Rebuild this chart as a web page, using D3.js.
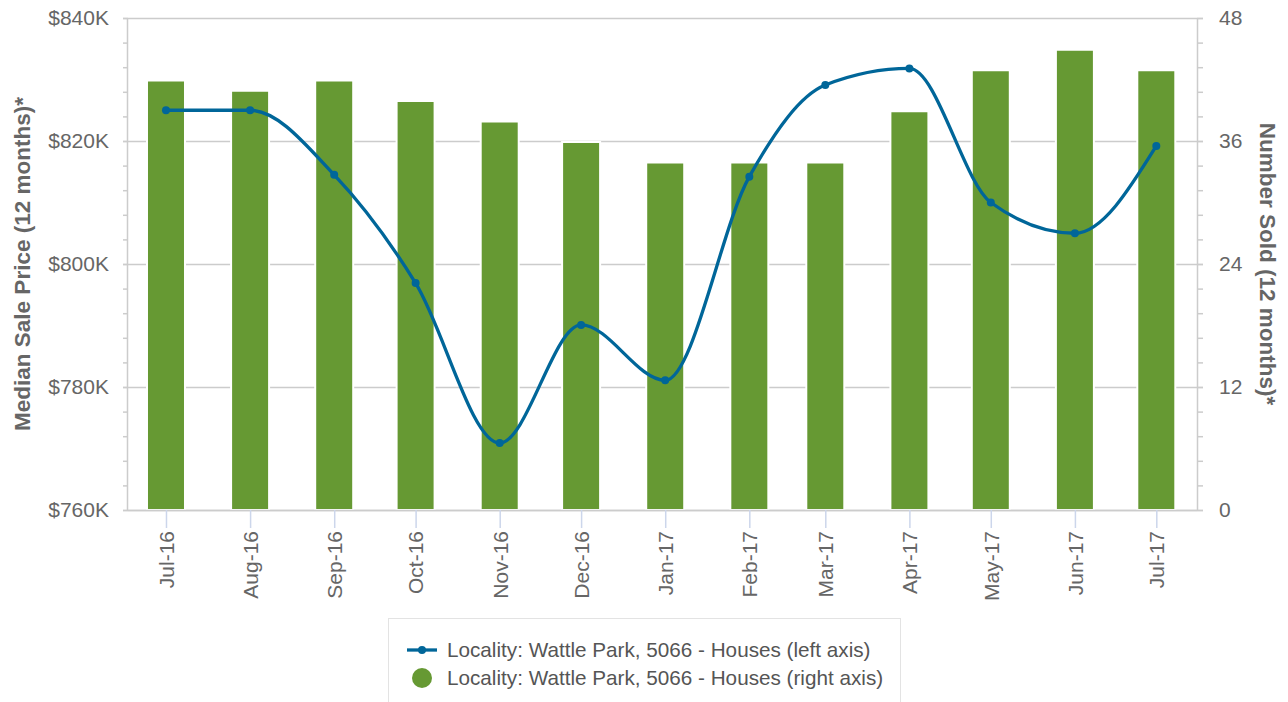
<!DOCTYPE html>
<html>
<head>
<meta charset="utf-8">
<script src="https://cdn.jsdelivr.net/npm/d3@7"></script>
<style>
  body { margin: 0; background: #fff; }
  text { font-family: "Liberation Sans", Arial, sans-serif; }
</style>
</head>
<body>
<script>
let width = 1288, height = 702;
let margin = {top: 18, right: 91, bottom: 192, left: 128};

// data
let months = ["2016-07", "2016-08", "2016-09", "2016-10", "2016-11", "2016-12",
              "2017-01", "2017-02", "2017-03", "2017-04", "2017-05", "2017-06", "2017-07"];
let medianPrice = [825.0, 825.0, 814.5, 796.9, 770.9, 790.1, 781.1, 814.2, 829.1, 831.8, 810.0, 805.0, 819.2];
let numberSold = [42, 41, 42, 40, 38, 36, 34, 34, 34, 39, 43, 45, 43];
let leftTicks = [760, 780, 800, 820, 840];
let rightTicks = [0, 12, 24, 36, 48];
let seriesNames = ["Locality: Wattle Park, 5066 - Houses (left axis)",
                   "Locality: Wattle Park, 5066 - Houses (right axis)"];

let lineColor = "#006699", barColor = "#669933", textColor = "#666666";

let parseMonth = d3.timeParse("%Y-%m");
let dates = months.map(parseMonth);

let svg = d3.select("body").append("svg")
    .attr("width", width)
    .attr("height", height);

let x0 = margin.left, x1 = width - margin.right;
let yTop = margin.top, yBot = height - margin.bottom;

let x = d3.scaleTime()
    .domain([new Date(2016, 5, 17), new Date(2017, 6, 16)])
    .range([x0, x1]);
let yL = d3.scaleLinear().domain([760, 840]).range([yBot, yTop]);
let yR = d3.scaleLinear().domain([0, 48]).range([yBot, yTop]);

// gridlines
let grid = svg.append("g").attr("transform", `translate(${x0},0)`)
    .call(d3.axisLeft(yL).tickValues(leftTicks).tickSize(-(x1 - x0)).tickFormat(""));
grid.select(".domain").remove();
grid.selectAll("line").attr("stroke", "#cccccc").attr("stroke-width", 1.5);

// bars (right axis)
let barW = 38;
svg.append("g").selectAll("rect")
    .data(numberSold)
    .enter().append("rect")
    .attr("x", (d, i) => x(dates[i]) - barW / 2)
    .attr("y", d => yR(d) + 1)
    .attr("width", barW)
    .attr("height", d => yBot - yR(d) - 1)
    .attr("fill", barColor)
    .attr("stroke", "#ffffff")
    .attr("stroke-width", 2);

// x axis
let xAxis = svg.append("g").attr("transform", `translate(0,${yBot})`)
    .call(d3.axisBottom(x).tickValues(dates).tickSize(18).tickFormat(d3.timeFormat("%b-%y")));
xAxis.select(".domain").attr("stroke", "#cccccc").attr("stroke-width", 1.5)
    .attr("d", `M${x0},0.5H${x1}`);
xAxis.selectAll(".tick line").attr("stroke", "#ccd6eb").attr("stroke-width", 1.5);
xAxis.selectAll(".tick text")
    .attr("transform", "rotate(-90)")
    .attr("x", -21)
    .attr("y", 0)
    .attr("dy", "0.35em")
    .style("text-anchor", "end")
    .style("font-size", "21px")
    .attr("fill", textColor);

// left axis, with minor ticks
let minorL = svg.append("g").attr("transform", `translate(${x0},0)`)
    .call(d3.axisLeft(yL).tickValues(d3.range(0, 21).map(i => 760 + i * 4)).tickSize(5).tickFormat(""));
minorL.selectAll("line").attr("stroke", "#cccccc").attr("stroke-width", 1.5);
minorL.select(".domain").remove();
let leftAxis = svg.append("g").attr("transform", `translate(${x0},0)`)
    .call(d3.axisLeft(yL).tickValues(leftTicks).tickSize(5).tickPadding(14).tickFormat(d => "$" + d + "K"));
leftAxis.select(".domain").attr("stroke", "#cccccc").attr("stroke-width", 1.5).attr("d", `M-0.5,${yBot}V${yTop}`);
leftAxis.selectAll("line").attr("stroke", "#cccccc").attr("stroke-width", 1.5);
leftAxis.selectAll("text").style("font-size", "21px").attr("fill", textColor);

// right axis
let minorR = svg.append("g").attr("transform", `translate(${x1},0)`)
    .call(d3.axisRight(yR).tickValues(d3.range(0, 21).map(i => i * 2.4)).tickSize(6).tickFormat(""));
minorR.selectAll("line").attr("stroke", "#cccccc").attr("stroke-width", 1.5);
minorR.select(".domain").remove();
let rightAxis = svg.append("g").attr("transform", `translate(${x1},0)`)
    .call(d3.axisRight(yR).tickValues(rightTicks).tickSize(6).tickPadding(16));
rightAxis.select(".domain").attr("stroke", "#cccccc").attr("stroke-width", 1.5).attr("d", `M0.5,${yBot}V${yTop}`);
rightAxis.selectAll("line").attr("stroke", "#cccccc").attr("stroke-width", 1.5);
rightAxis.selectAll("text").style("font-size", "21px").attr("fill", textColor);

// axis titles
svg.append("text")
    .attr("transform", `translate(30,${(yTop + yBot) / 2}) rotate(-90)`)
    .attr("text-anchor", "middle")
    .style("font-size", "22.5px")
    .style("font-weight", "bold")
    .attr("fill", textColor)
    .text("Median Sale Price (12 months)*");
svg.append("text")
    .attr("transform", `translate(1260,${(yTop + yBot) / 2}) rotate(90)`)
    .attr("text-anchor", "middle")
    .style("font-size", "22.5px")
    .style("font-weight", "bold")
    .attr("fill", textColor)
    .text("Number Sold (12 months)*");

// price line (left axis)
let line = d3.line()
    .x((d, i) => x(dates[i]))
    .y(d => yL(d))
    .curve(d3.curveMonotoneX);
svg.append("path")
    .datum(medianPrice)
    .attr("d", line)
    .attr("fill", "none")
    .attr("stroke", lineColor)
    .attr("stroke-width", 3.3);
svg.append("g").selectAll("circle")
    .data(medianPrice)
    .enter().append("circle")
    .attr("cx", (d, i) => x(dates[i]))
    .attr("cy", d => yL(d))
    .attr("r", 4)
    .attr("fill", lineColor);

// legend
let legend = svg.append("g");
legend.append("rect")
    .attr("x", 388.5).attr("y", 618.5)
    .attr("width", 512).attr("height", 100)
    .attr("fill", "#ffffff")
    .attr("stroke", "#e3e3e3");
legend.append("line")
    .attr("x1", 407).attr("x2", 437).attr("y1", 650).attr("y2", 650)
    .attr("stroke", lineColor).attr("stroke-width", 3.3);
legend.append("circle")
    .attr("cx", 422).attr("cy", 650).attr("r", 4).attr("fill", lineColor);
legend.append("circle")
    .attr("cx", 422).attr("cy", 678).attr("r", 10).attr("fill", barColor);
legend.selectAll("text.item")
    .data(seriesNames)
    .enter().append("text")
    .attr("class", "item")
    .attr("x", 447)
    .attr("y", (d, i) => 650 + i * 28)
    .attr("dy", "0.35em")
    .style("font-size", "20.7px")
    .attr("fill", "#555555")
    .text(d => d);
</script>
</body>
</html>
